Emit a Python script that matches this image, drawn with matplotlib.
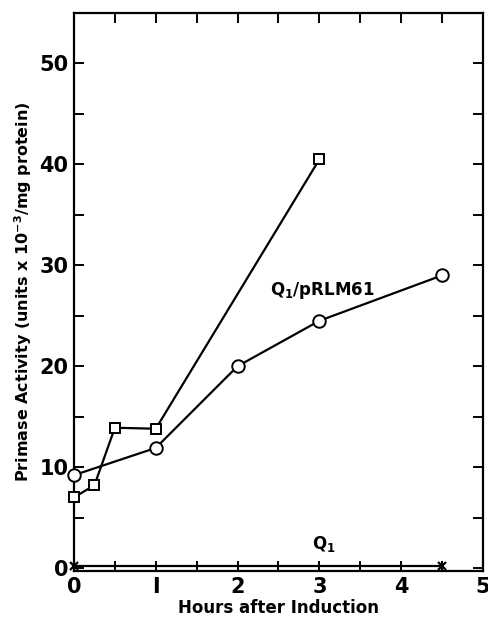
import matplotlib
matplotlib.use('Agg')
import matplotlib.pyplot as plt
from matplotlib.ticker import MultipleLocator

# plasmid strain, squares
sq_hours = [0, 0.25, 0.5, 1, 3]
sq_activity = [7.0, 8.2, 13.9, 13.8, 40.5]

# plasmid strain, circles
ci_hours = [0, 1, 2, 3, 4.5]
ci_activity = [9.2, 11.9, 20.0, 24.5, 29.0]

# Q1 alone, crosses
q1_hours = [0, 4.5]
q1_activity = [0.2, 0.2]

plt.rcParams['font.family'] = ['DejaVu Sans']
plt.rcParams['mathtext.default'] = 'bf'

fig = plt.figure(figsize=(4.89, 6.2), dpi=100)
ax = fig.add_axes([0.1513, 0.079, 0.8364, 0.900])

ax.plot(sq_hours, sq_activity, '-', color='black', lw=1.6, marker='s', ms=7,
        mfc='white', mec='black', mew=1.4, clip_on=False, zorder=3)
ax.plot(ci_hours, ci_activity, '-', color='black', lw=1.6, marker='o', ms=9,
        mfc='white', mec='black', mew=1.4, clip_on=False, zorder=3)
ax.plot(q1_hours, q1_activity, '-', color='black', lw=1.6, marker='x', ms=6,
        mew=1.6, clip_on=False)

ax.text(2.4, 27.5, 'Q$_1$/pRLM61', fontsize=12, fontweight='bold', va='center')
ax.text(3.05, 2.4, 'Q$_1$', fontsize=12, fontweight='bold', ha='center', va='center')

ax.set_xlim(0, 5)
ax.set_ylim(-0.3, 55)
ax.xaxis.set_major_locator(MultipleLocator(1))
ax.xaxis.set_minor_locator(MultipleLocator(0.5))
ax.yaxis.set_major_locator(MultipleLocator(10))
ax.yaxis.set_minor_locator(MultipleLocator(5))
ax.set_xticks([0, 1, 2, 3, 4, 5])
ax.set_xticklabels(['0', 'I', '2', '3', '4', '5'])
ax.tick_params(which='both', direction='in', top=True, right=True, width=1.4,
               labelsize=15, pad=4)
ax.tick_params(which='major', length=7)
ax.tick_params(which='minor', length=7)
for lab in ax.get_xticklabels() + ax.get_yticklabels():
    lab.set_fontweight('bold')
for sp in ax.spines.values():
    sp.set_linewidth(1.6)

ax.set_xlabel('Hours after Induction', fontsize=12, fontweight='bold', labelpad=2)
ax.set_ylabel('Primase Activity (units x 10$^{-3}$/mg protein)', fontsize=11.5,
              fontweight='bold', labelpad=4)

fig.savefig('out.png', dpi=100)
